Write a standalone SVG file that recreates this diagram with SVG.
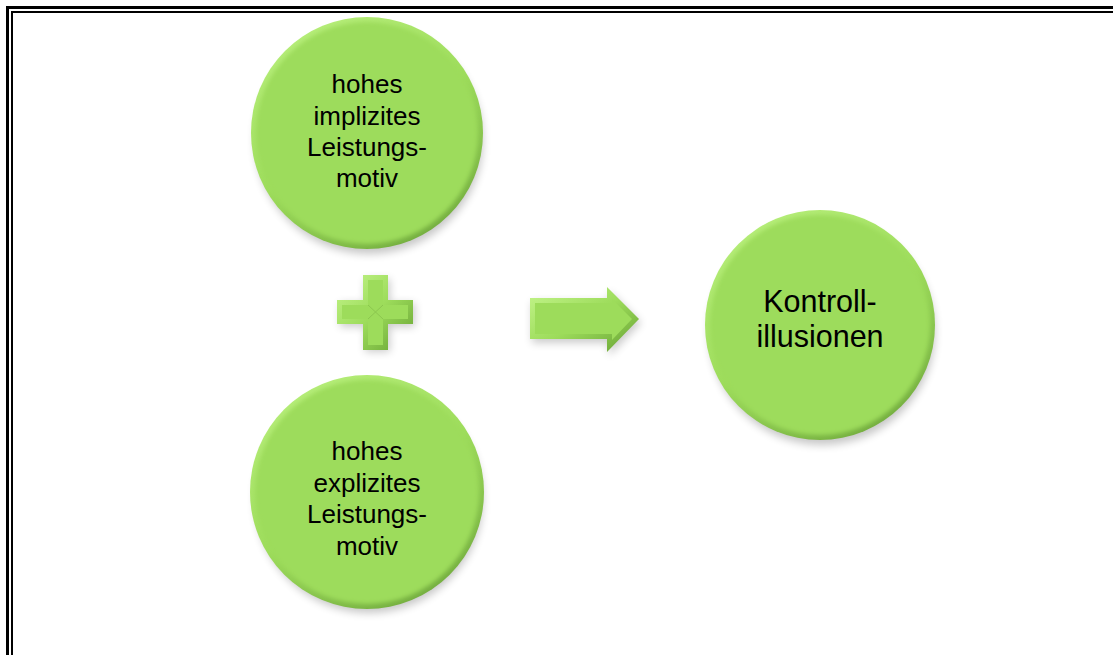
<svg xmlns="http://www.w3.org/2000/svg" width="1113" height="655" viewBox="0 0 1113 655">
  <defs>
    <linearGradient id="rim" x1="0.2" y1="0" x2="0.8" y2="1">
      <stop offset="0" stop-color="#b8ef7c"/>
      <stop offset="0.5" stop-color="#9ddc5b"/>
      <stop offset="1" stop-color="#6fa83c"/>
    </linearGradient>
    <linearGradient id="bevel" x1="0" y1="0" x2="1" y2="1">
      <stop offset="0" stop-color="#c4f58c"/>
      <stop offset="0.5" stop-color="#9ddc5b"/>
      <stop offset="1" stop-color="#65a032"/>
    </linearGradient>
    <filter id="soft" x="-10%" y="-10%" width="120%" height="120%">
      <feGaussianBlur stdDeviation="2.2"/>
    </filter>
    <filter id="shadow" x="-20%" y="-20%" width="140%" height="140%">
      <feGaussianBlur stdDeviation="4"/>
    </filter>
    <style>
      .face { fill: #9ddc5b; }
      .label { font-family: "Liberation Sans", Arial, sans-serif; fill: #000; text-anchor: middle; }
      .small { font-size: 26px; }
      .big { font-size: 30.5px; }
      .frame { fill: none; stroke: #000; }
    </style>
  </defs>

  <rect width="1113" height="655" fill="#fff"/>

  <!-- double frame on top and left -->
  <g id="frame">
    <path class="frame" stroke-width="3" d="M7.5 655 V7.5 H1113"/>
    <path class="frame" stroke-width="2" d="M12 655 V12 H1113"/>
  </g>

  <!-- circle: implicit motive -->
  <g id="node-implizit">
    <ellipse cx="369" cy="140" rx="114" ry="114" fill="#000" opacity="0.22" filter="url(#shadow)"/>
    <circle cx="367" cy="133" r="116" fill="url(#rim)"/>
    <circle class="face" cx="367" cy="133" r="111" filter="url(#soft)"/>
    <text class="label small" x="367" y="93">hohes</text>
    <text class="label small" x="367" y="125">implizites</text>
    <text class="label small" x="367" y="156">Leistungs-</text>
    <text class="label small" x="367" y="187">motiv</text>
  </g>

  <!-- circle: explicit motive -->
  <g id="node-explizit">
    <ellipse cx="369" cy="499" rx="114" ry="114" fill="#000" opacity="0.22" filter="url(#shadow)"/>
    <circle cx="367" cy="492" r="117" fill="url(#rim)"/>
    <circle class="face" cx="367" cy="492" r="112" filter="url(#soft)"/>
    <text class="label small" x="367" y="460">hohes</text>
    <text class="label small" x="367" y="492">explizites</text>
    <text class="label small" x="367" y="523">Leistungs-</text>
    <text class="label small" x="367" y="555">motiv</text>
  </g>

  <!-- circle: result -->
  <g id="node-kontroll">
    <ellipse cx="822" cy="332" rx="113" ry="113" fill="#000" opacity="0.22" filter="url(#shadow)"/>
    <circle cx="820" cy="325" r="115" fill="url(#rim)"/>
    <circle class="face" cx="820" cy="325" r="110" filter="url(#soft)"/>
    <text class="label big" x="820" y="312">Kontroll-</text>
    <text class="label big" x="820" y="347">illusionen</text>
  </g>

  <!-- connectors: plus sign and arrow -->
  <g id="connectors">
    <g id="plus">
      <path d="M365 279 H390 V303 H415 V327 H390 V352 H365 V327 H340 V303 H365 Z" fill="#000" opacity="0.2" filter="url(#shadow)"/>
      <path d="M363 275 H388 V300 H413 V324 H388 V350 H363 V324 H337 V300 H363 Z" fill="url(#bevel)"/>
      <path d="M368 280 H383 V305 H408 V319 H383 V345 H368 V319 H342 V305 H368 Z" class="face"/>
      <path d="M368 305 L383 319 M383 305 L368 319" fill="none" stroke="#8cc74f" stroke-width="1"/>
    </g>
    <g id="arrow">
      <path d="M532 302 H609 V291 L641 323 L609 356 V343 H532 Z" fill="#000" opacity="0.2" filter="url(#shadow)"/>
      <path d="M530 298 H607 V287 L639 319 L607 352 V339 H530 Z" fill="url(#bevel)"/>
      <path d="M535 303 H612 V299 L632 319 L612 340 V334 H535 Z" class="face"/>
    </g>
  </g>
</svg>
